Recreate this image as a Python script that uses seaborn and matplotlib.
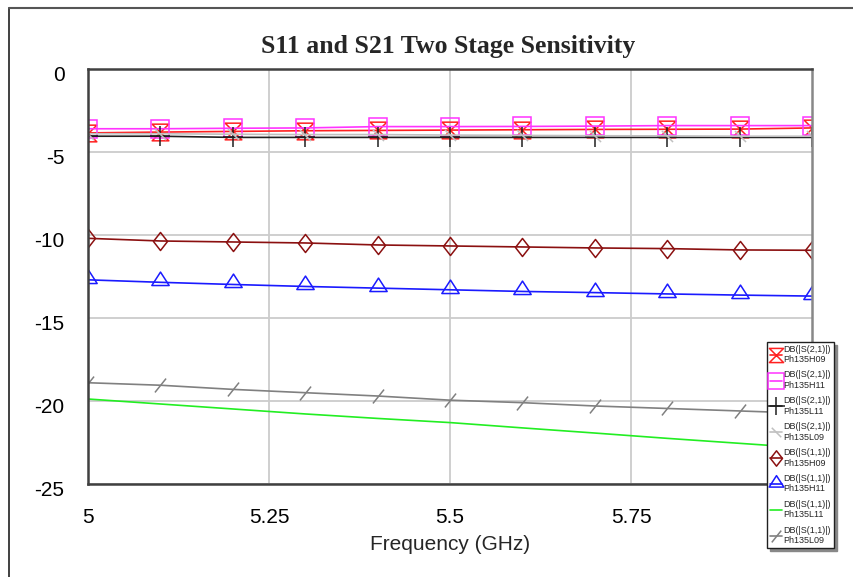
import numpy as np
import pandas as pd
import matplotlib
matplotlib.use("Agg")
import matplotlib.pyplot as plt
from matplotlib.path import Path
from matplotlib.lines import Line2D
import matplotlib.transforms as mtransforms
import seaborn as sns

# ---------------- data ----------------
freq = [5.0, 5.1, 5.2, 5.3, 5.4, 5.5, 5.6, 5.7, 5.8, 5.9, 6.0]

s21_h09 = [-3.85, -3.80, -3.76, -3.72, -3.70, -3.68, -3.66, -3.64, -3.63, -3.62, -3.55]
s21_h11 = [-3.60, -3.60, -3.57, -3.55, -3.47, -3.47, -3.46, -3.44, -3.41, -3.41, -3.41]
s21_l11 = [-4.05, -4.05, -4.12, -4.12, -4.12, -4.12, -4.12, -4.12, -4.12, -4.12, -4.12]
s21_l09 = [-3.90, -3.90, -3.93, -3.95, -3.95, -3.98, -4.00, -4.02, -4.03, -4.05, -4.05]
s11_h09 = [-10.20, -10.36, -10.42, -10.48, -10.60, -10.66, -10.72, -10.78, -10.82, -10.90, -10.92]
s11_h11 = [-12.70, -12.85, -12.98, -13.10, -13.20, -13.30, -13.40, -13.47, -13.55, -13.62, -13.68]
s11_l11 = [-19.88, -20.18, -20.48, -20.78, -21.05, -21.30, -21.62, -21.93, -22.25, -22.55, -22.85]
s11_l09 = [-18.90, -19.05, -19.30, -19.50, -19.70, -19.95, -20.10, -20.30, -20.45, -20.60, -20.75]

labels = ["DB(|S(2,1)|)\nPh135H09", "DB(|S(2,1)|)\nPh135H11",
          "DB(|S(2,1)|)\nPh135L11", "DB(|S(2,1)|)\nPh135L09",
          "DB(|S(1,1)|)\nPh135H09", "DB(|S(1,1)|)\nPh135H11",
          "DB(|S(1,1)|)\nPh135L11", "DB(|S(1,1)|)\nPh135L09"]
series = [s21_h09, s21_h11, s21_l11, s21_l09, s11_h09, s11_h11, s11_l11, s11_l09]

xticks = [5, 5.25, 5.5, 5.75]
xtick_labels = ["5", "5.25", "5.5", "5.75"]
yticks = [0, -5, -10, -15, -20, -25]
ytick_labels = ["0", "-5", "-10", "-15", "-20", "-25"]

# ---------------- styles ----------------
hourglass = Path([(-1, 1), (1, 1), (-1, -1), (1, -1), (-1, 1)],
                 [Path.MOVETO, Path.LINETO, Path.LINETO, Path.LINETO, Path.CLOSEPOLY])
backslash = Path([(-1, 1), (1, -1)], [Path.MOVETO, Path.LINETO])
slash = Path([(-0.8, -1), (0.8, 1)], [Path.MOVETO, Path.LINETO])
tri_up = Path([(0, 1.2), (-1, -0.35), (1, -0.35), (0, 1.2)],
              [Path.MOVETO, Path.LINETO, Path.LINETO, Path.CLOSEPOLY])
diamond = Path([(0, 1), (0.78, 0), (0, -1), (-0.78, 0), (0, 1)],
               [Path.MOVETO, Path.LINETO, Path.LINETO, Path.LINETO, Path.CLOSEPOLY])

styles = [
    dict(color="#ff2020", marker=hourglass, ms=12),
    dict(color="#ff33ff", marker="s", ms=13),
    dict(color="#202020", marker="+", ms=15),
    dict(color="#c0c0c0", marker=backslash, ms=8),
    dict(color="#8b1010", marker=diamond, ms=13),
    dict(color="#1a1aff", marker=tri_up, ms=15),
    dict(color="#22ee22", marker=None, ms=0),
    dict(color="#808080", marker=slash, ms=10),
]

rows = []
for lab, vals in zip(labels, series):
    for f, v in zip(freq, vals):
        rows.append((lab, f, v))
df = pd.DataFrame(rows, columns=["series", "freq", "db"])

sns.set_theme(style="white")
plt.rcParams["font.family"] = ["Liberation Sans", "DejaVu Sans"]

fig = plt.figure(figsize=(8.54, 5.77), dpi=100)
ax = fig.add_axes([88 / 854, 1 - 484 / 577, (812 - 88) / 854, (484 - 69) / 577])

handles = []
for lab, st in zip(labels, styles):
    sub = df[df["series"] == lab]
    kw = dict(color=st["color"], linewidth=1.2)
    if st["marker"] is not None:
        kw.update(marker=st["marker"], markersize=st["ms"], markerfacecolor="none",
                  markeredgecolor=st["color"], markeredgewidth=1.1)
    sns.lineplot(data=sub, x="freq", y="db", ax=ax, legend=False, **kw)
    h = Line2D([], [], color=st["color"], linewidth=1.2,
               marker=st["marker"] if st["marker"] is not None else None,
               markersize=st["ms"], markerfacecolor="none",
               markeredgecolor=st["color"], markeredgewidth=1.1)
    handles.append(h)

ax.set_xlim(5, 6)
ax.set_ylim(-25, 0)
ax.set_xticks(xticks)
ax.set_xticklabels(xtick_labels)
ax.set_yticks(yticks)
ax.set_yticklabels(ytick_labels)
ax.tick_params(axis="both", length=0, labelsize=15, colors="black")
ax.tick_params(axis="y", pad=17)
ax.tick_params(axis="x", pad=17)
offset = mtransforms.ScaledTranslation(0, -3 / 72, fig.dpi_scale_trans)
for t in ax.get_yticklabels():
    t.set_transform(t.get_transform() + offset)
ax.grid(True, color="#cccccc", linewidth=1.3)
ax.set_axisbelow(True)
for sp in ax.spines.values():
    sp.set_visible(True)
    sp.set_color("#404040")
    sp.set_linewidth(1.8)
ax.spines["right"].set_color("#888888")
ax.set_xlabel("Frequency (GHz)", fontsize=15, labelpad=6)
ax.set_ylabel("")

fig.text(448 / 854, 1 - 47 / 577, "S11 and S21 Two Stage Sensitivity",
         ha="center", va="center", fontsize=18.5, fontweight="bold",
         family=["Liberation Serif", "DejaVu Serif"])

leg = fig.legend(handles=handles, labels=labels, loc="lower left",
                 bbox_to_anchor=(767 / 854, 1 - 548 / 577),
                 frameon=True, fancybox=False, shadow={"color": "#888888", "alpha": 1},
                 fontsize=6.5, handlelength=1.4, handletextpad=0.15,
                 borderpad=0.3, labelspacing=0.72, borderaxespad=0,
                 markerscale=0.85)
leg.get_frame().set_edgecolor("#202020")
leg.get_frame().set_linewidth(1.0)

# outer window frame lines
fig.add_artist(Line2D([9 / 854, 9 / 854], [0, 1 - 8 / 577], color="#202020", lw=1.2,
                      transform=fig.transFigure))
fig.add_artist(Line2D([9 / 854, 1], [1 - 8 / 577, 1 - 8 / 577], color="#555555", lw=1.5,
                      transform=fig.transFigure))

fig.savefig("out.png", dpi=100)
